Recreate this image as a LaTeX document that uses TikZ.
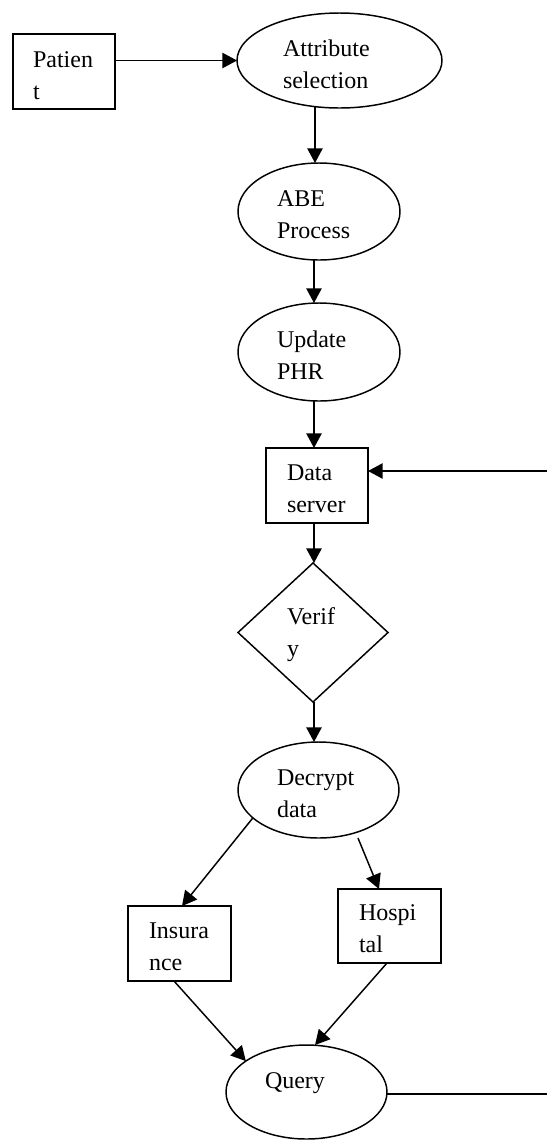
\documentclass[tikz,border=0pt]{standalone}
\usepackage{fontspec}
\setmainfont{Liberation Serif}
\usetikzlibrary{shapes.geometric,arrows.meta,calc}

\begin{document}
\begin{tikzpicture}[x=0.75pt,y=-0.75pt,
  every node/.style={inner sep=0pt, outer sep=0pt},
  box/.style={draw, line width=1.1pt, rectangle},
  oval/.style={draw, line width=1.1pt, ellipse},
  decision/.style={draw, line width=1.1pt, diamond},
  % labels are placed by the baseline of their last line
  lbl/.style={anchor=base west, align=left, font=\fontsize{18}{23.5}\selectfont},
  arr/.style={line width=1.1pt, -{Triangle[length=11pt,width=11.5pt]}},
  wire/.style={line width=1.1pt}]

\useasboundingbox (0,0) rectangle (547,1140);

% shapes
\node[box,  minimum width=76.5pt,  minimum height=56.25pt] (patient) at (64,71.5) {};
\node[oval, minimum width=153.75pt, minimum height=71.25pt] (attr) at (339.5,60.5) {};
\node[oval, minimum width=121.5pt, minimum height=72.75pt] (abe) at (319,211.5) {};
\node[oval, minimum width=121.5pt, minimum height=73.5pt] (update) at (319,352) {};
\node[box,  minimum width=76.5pt,  minimum height=56.25pt] (server) at (317,485.5) {};
\node[decision, minimum width=112.5pt, minimum height=104.25pt] (verify) at (313,632.5) {};
\node[oval, minimum width=120.75pt, minimum height=72pt] (decrypt) at (318.5,790) {};
\node[box,  minimum width=77.25pt, minimum height=56.25pt] (insurance) at (179.5,943.5) {};
\node[box,  minimum width=77.25pt, minimum height=55.5pt] (hospital) at (389.5,926) {};
\node[oval, minimum width=120.75pt, minimum height=70.5pt] (query) at (306.5,1092) {};

% labels
\node[lbl] (t-patient) at (33,99) {Patien\\t};
\node[lbl] (t-attr) at (283,88) {Attribute\\selection};
\node[lbl] (t-abe) at (277,238) {ABE\\Process};
\node[lbl] (t-update) at (277,379) {Update\\PHR};
\node[lbl] (t-server) at (287,512) {Data\\server};
\node[lbl] (t-verify) at (287,656) {Verif\\y};
\node[lbl] (t-decrypt) at (277,817) {Decrypt\\data};
\node[lbl] (t-insurance) at (149,970) {Insura\\nce};
\node[lbl] (t-hospital) at (359,952) {Hospi\\tal};
\node[lbl] (t-query) at (265,1088) {Query};

% free ends on the right margin
\coordinate (serverin) at (547,471);
\coordinate (queryout) at (547,1094);
\coordinate (spine) at (314,0);

% connectors
\draw[arr] (patient.east |- attr.west) -- (attr.west);
\draw[arr] (attr.242) -- (attr.242 |- abe.north);
\draw[arr] (abe.south -| spine) -- (update.north -| spine);
\draw[arr] (update.south -| spine) -- (server.north -| spine);
\draw[arr] (serverin) -- (serverin -| server.east);
\draw[arr] (server.south -| spine) -- (verify.north -| spine);
\draw[arr] (verify.south -| spine) -- (decrypt.north -| spine);
\draw[arr] (decrypt.203.9) -- ($(insurance.north)+(2.5,0)$);
\draw[arr] ($(decrypt.south)+(39.5,0)$) -- ($(hospital.north)+(-10.5,0)$);
\draw[arr] ($(insurance.south)+(-5.5,0)$) -- (query.153.6);
\draw[arr] ($(hospital.south)+(-2.5,0)$) -- ($(query.north)+(8.5,0)$);
\draw[wire] (queryout -| query.east) -- (queryout);
\end{tikzpicture}
\end{document}
